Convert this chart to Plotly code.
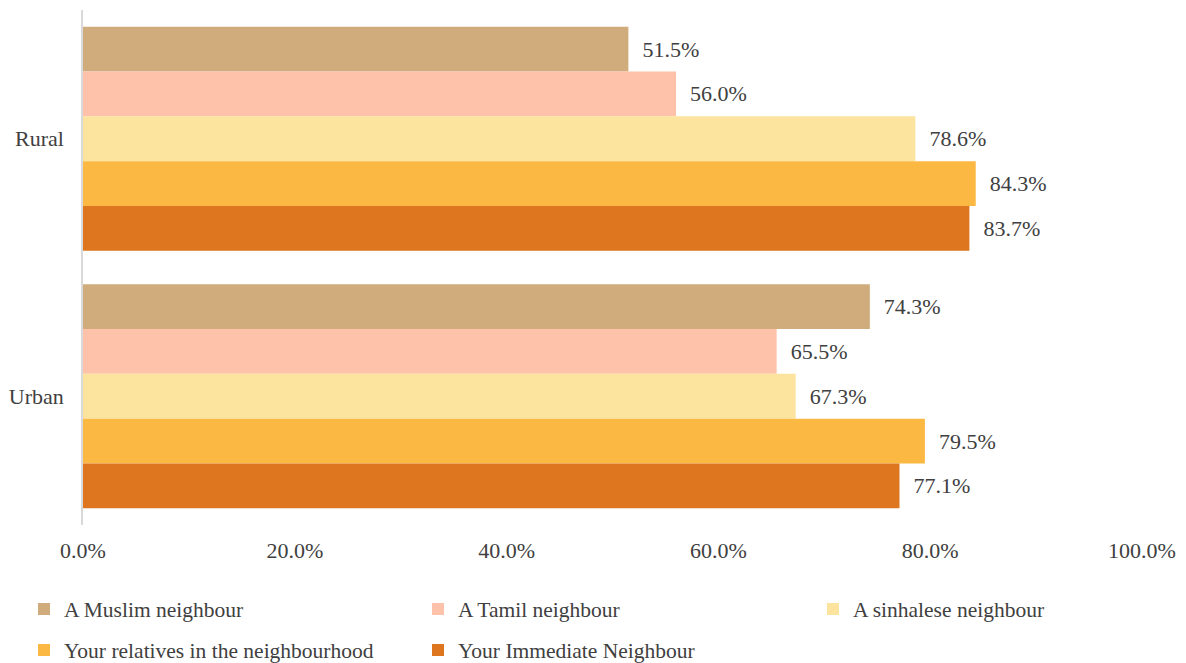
import plotly.graph_objects as go

categories = ["Rural", "Urban"]
series_names = [
    "A Muslim neighbour",
    "A Tamil neighbour",
    "A sinhalese neighbour",
    "Your relatives in the neighbourhood",
    "Your Immediate Neighbour",
]
muslim = [51.5, 74.3]
tamil = [56.0, 65.5]
sinhalese = [78.6, 67.3]
relatives = [84.3, 79.5]
immediate = [83.7, 77.1]
series_values = [muslim, tamil, sinhalese, relatives, immediate]
colors = ["#D0AC7C", "#FDC2A9", "#FCE39E", "#FBB943", "#DD761E"]
tick_vals = [0, 20, 40, 60, 80, 100]
tick_text = ["0.0%", "20.0%", "40.0%", "60.0%", "80.0%", "100.0%"]

FONT = "Liberation Serif, Times New Roman, serif"
FS = 22
LFS = 21.5
TXT = "#404040"
W, H = 1186, 663

# legend slot placement (container pixels): (left, vertical center)
legend_slots = [(16, 601), (410, 601), (805, 601), (16, 642), (410, 642)]
legend_ids = ["legend", "legend2", "legend3", "legend4", "legend5"]

fig = go.Figure()
for name, vals, col, lid in zip(series_names, series_values, colors, legend_ids):
    fig.add_trace(go.Bar(
        y=categories, x=vals, name=name, orientation="h",
        marker=dict(color=col, line=dict(width=0)),
        texttemplate="  %{x:.1f}%", textposition="outside",
        textfont=dict(family=FONT, size=FS, color=TXT),
        cliponaxis=False, legend=lid,
    ))

legend_layout = {}
for lid, (lx, ly) in zip(legend_ids, legend_slots):
    legend_layout[lid] = dict(
        xref="container", yref="container",
        x=lx / W, y=1 - ly / H, xanchor="left", yanchor="middle",
        orientation="h", bgcolor="rgba(0,0,0,0)",
        font=dict(family=FONT, size=LFS, color=TXT), itemwidth=30,
    )

fig.update_layout(
    width=W, height=H,
    margin=dict(l=75, r=52, t=2, b=146, autoexpand=False),
    barmode="group", bargap=0.13, bargroupgap=0,
    plot_bgcolor="white", paper_bgcolor="white",
    font=dict(family=FONT, size=FS, color=TXT),
    showlegend=True,
    **legend_layout,
)
fig.update_xaxes(range=[0, 100], tickvals=tick_vals, ticktext=tick_text,
                 showgrid=False, zeroline=False, showline=False, ticks="",
                 ticklabelstandoff=10,
                 tickfont=dict(family=FONT, size=FS, color=TXT))
fig.update_yaxes(categoryorder="array", categoryarray=categories, autorange="reversed",
                 showgrid=False, zeroline=False, showline=True, linecolor="#D9D9D9",
                 linewidth=1.5, ticks="", ticklabelstandoff=13,
                 tickfont=dict(family=FONT, size=FS, color=TXT))

fig.write_html("out.html")
